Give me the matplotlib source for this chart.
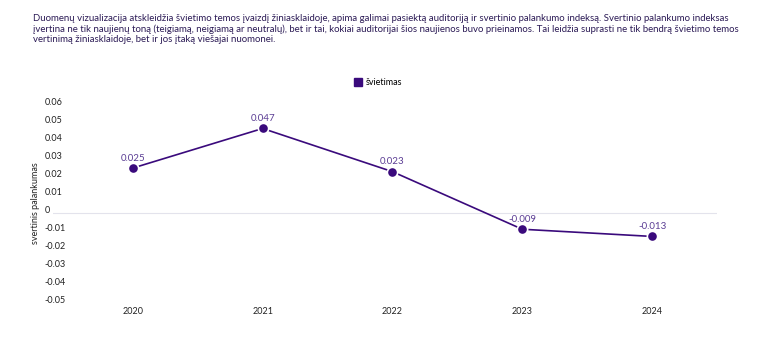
import numpy as np
import matplotlib.pyplot as plt
import matplotlib.transforms as mtransforms

# data
years = [2020, 2021, 2022, 2023, 2024]
values = [0.025, 0.047, 0.023, -0.009, -0.013]
series_name = 'švietimas'
yticks = [0.06, 0.05, 0.04, 0.03, 0.02, 0.01, 0, -0.01, -0.02, -0.03, -0.04, -0.05]
ytick_labels = ['0.06', '0.05', '0.04', '0.03', '0.02', '0.01', '0',
                '-0.01', '-0.02', '-0.03', '-0.04', '-0.05']
intro = ('Duomenų vizualizacija atskleidžia švietimo temos įvaizdį žiniasklaidoje, apima galimai pasiektą auditoriją ir svertinio palankumo indeksą. Svertinio palankumo indeksas\n'
         'įvertina ne tik naujienų toną (teigiamą, neigiamą ar neutralų), bet ir tai, kokiai auditorijai šios naujienos buvo prieinamos. Tai leidžia suprasti ne tik bendrą švietimo temos\n'
         'vertinimą žiniasklaidoje, bet ir jos įtaką viešajai nuomonei.')

plt.rcParams['font.family'] = ['Lato', 'DejaVu Sans']
purple = '#3a0a7c'
label_col = '#5b3d94'
text_col = '#2b1a55'

W, H = 768, 338
fig = plt.figure(figsize=(W / 100, H / 100), dpi=100)

# axes placed in pixel units
l, r, t, b = 53, 717, 95, 305
ax = fig.add_axes([l / W, 1 - b / H, (r - l) / W, (b - t) / H])

ax.plot(years, values, color=purple, lw=1.2, zorder=2)
ax.scatter(years, values, s=55, color=purple, edgecolor='white', linewidth=1.2, zorder=3,
           label=series_name)
for x, v in zip(years, values):
    ax.annotate(f'{v:g}', (x, v), xytext=(0, 4), textcoords='offset points',
                ha='center', va='bottom', fontsize=7, color=label_col)

ax.axhline(0, color='#e3e3ec', lw=0.8, zorder=1)
ax.set_xlim(2019.385, 2024.5)
ax.set_ylim(-0.0511, 0.0656)
ax.set_xticks(years)
ax.set_xticklabels([str(y) for y in years])
ax.set_yticks(yticks)
ax.set_yticklabels(ytick_labels)
ax.tick_params(axis='both', length=0, labelsize=6.5, labelcolor='#222222')
ax.tick_params(axis='x', pad=1.5)
ax.tick_params(axis='y', pad=6)
shift = mtransforms.ScaledTranslation(0, 4 / 100, fig.dpi_scale_trans)
for lab in ax.get_yticklabels():
    lab.set_horizontalalignment('left')
    lab.set_transform(lab.get_transform() + shift)
for s in ax.spines.values():
    s.set_visible(False)

ax.set_ylabel('svertinis palankumas', fontsize=6.5, color='#222222')
ax.yaxis.set_label_coords(-13 / (r - l), 0.485)

ax.legend(handles=[plt.Line2D([], [], marker='s', ls='', color=purple, markersize=6)],
          labels=[series_name], loc='center', frameon=False, fontsize=6.5,
          handletextpad=0.3, handlelength=1.0,
          bbox_to_anchor=(378 / W, 1 - 83 / H), bbox_transform=fig.transFigure)

fig.text(33 / W, 1 - 14 / H, intro, ha='left', va='top', fontsize=6.9,
         color=text_col, linespacing=1.2)

fig.savefig('out.png', dpi=100)
